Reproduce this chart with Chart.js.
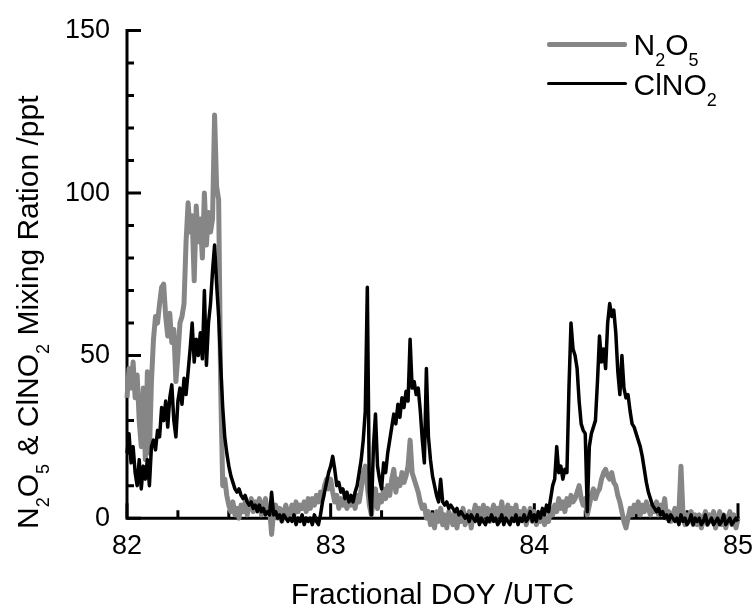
<!DOCTYPE html>
<html>
<head>
<meta charset="utf-8">
<script src="https://cdn.jsdelivr.net/npm/chart.js"></script>
<style>
  body { margin: 0; background: #fff; }
  #wrap { position: relative; width: 756px; height: 609px; }
  #myChart { position: absolute; left: 0; top: 0; }
  .txt { position: absolute; font-family: 'Liberation Sans', Arial, sans-serif; font-size: 30px; line-height: 30px; color: #000; white-space: nowrap; }
  .sub { font-size: 18px; position: relative; top: 11px; }
  .ytitle { transform-origin: 0 0; transform: rotate(-90deg); }
  .key { position: absolute; }
</style>
</head>
<body>
<div id="wrap">
  <canvas id="myChart" width="756" height="609"></canvas>
  <div class="key" style="left:547px;top:42px;width:80px;height:4.5px;background:#868686;border-radius:2px"></div>
  <div class="key" style="left:547px;top:81.5px;width:80px;height:3.5px;background:#000;border-radius:2px"></div>
  <div class="txt" style="left:633.5px;top:29.6px">N<span class="sub">2</span>O<span class="sub">5</span></div>
  <div class="txt" style="left:633.5px;top:69.6px">ClNO<span class="sub">2</span></div>
  <div class="txt ytitle" style="left:13px;top:529px">N<span class="sub">2</span>O<span class="sub">5</span> &amp; ClNO<span class="sub">2</span> Mixing Ration /ppt</div>
</div>
<script>
// sampling of the time axis (fractional day of year)
const doyStart = 82;
const doyStep = 0.01;

// ClNO2 (black), ppt, one value per 0.01 day from 82.00 to 85.00
const clno2 = [
    20, 26, 17, 22, 14, 10, 18, 9, 16, 12,
    18, 10, 22, 24, 21, 27, 25, 34, 30, 36,
    28, 37, 41, 30, 25, 36, 40, 35, 43, 38,
    45, 52, 60, 48, 55, 50, 57, 49, 70, 47,
    60, 66, 76, 84, 72, 62, 47, 34, 25, 20,
    16, 13, 11, 9, 8, 9, 7, 6, 7, 5,
    4, 5, 3, 4, 2, 4, 2, 3, 1, 2,
    1, 8, 1, 2, 0, 1, -1, 1, 0, -1,
    0, -1, 1, -2, 0, -1, 1, -2, 0, -1,
    0, -2, 1, -1, -2, 1, 5, 8, 11, 14,
    16, 19, 15, 10, 11, 8, 9, 6, 8, 5,
    7, 5, 8, 10, 14, 18, 24, 33, 71, 8,
    1, 22, 32, 16, 12, 9, 17, 14, 20, 24,
    28, 32, 29, 35, 31, 37, 34, 39, 36, 55,
    40, 42, 38, 40, 33, 24, 17, 46, 25, 18,
    13, 10, 7, 5, 12, 5, 4, 5, 3, 4,
    3, 2, 3, 1, 2, 1, 0, 1, -1, 1,
    0, -1, 1, -2, 0, -1, -2, 0, -1, 1,
    -1, 0, -2, -1, 1, -2, 0, -1, -2, 0,
    -1, 1, -2, 0, -1, 1, -1, 0, 2, -1,
    1, -1, 2, 0, 3, 1, 4, 2, 6, 10,
    12, 22, 14, 16, 12, 15, 14, 40, 60, 52,
    50, 46, 36, 29, 27, 26, 2, 22, 26, 28,
    30, 42, 56, 48, 52, 46, 60, 66, 62, 64,
    57, 45, 38, 50, 40, 37, 38, 33, 29, 28,
    26, 24, 22, 19, 15, 11, 8, 6, 4, 3,
    2, 3, 1, 2, 0, 1, -1, 1, 0, -1,
    0, -2, 1, -1, 0, -2, -1, 1, -2, 0,
    -1, 0, -2, -1, 1, -2, -1, 0, -2, -1,
    0, -2, -1, 1, -2, -1, 0, -2, -1, 0,
    -1
];

// N2O5 (grey), ppt, same sampling
const n2o5 = [
    37, 46, 40, 48, 37, 44, 30, 22, 40, 18,
    45, 20, 42, 55, 62, 60, 66, 71, 72, 62,
    56, 63, 54, 58, 42, 50, 60, 62, 66, 85,
    97, 88, 93, 73, 96, 85, 92, 80, 100, 84,
    94, 88, 92, 124, 102, 98, 40, 10, 12, 7,
    4, 2, 5, 1, 3, 0, 4, 2, 5, 1,
    4, 6, 2, 5, 3, 6, 1, 4, 6, 2,
    3, -5, 2, 4, 0, 3, -1, 2, 4, 0,
    2, 4, 1, 5, 2, 4, 3, 5, 2, 6,
    3, 6, 4, 7, 5, 8, 6, 10, 12, 9,
    12, 8, 5, 7, 3, 6, 4, 5, 3, 6,
    4, 6, 3, 7, 5, 9, 14, 16, 10, 4,
    1, 6, 9, 3, 7, 5, 9, 6, 10, 7,
    12, 15, 8, 12, 10, 14, 11, 13, 16, 24,
    14, 12, 10, 8, 5, 3, 4, 0, 2, -2,
    1, -3, 2, -1, 3, -2, 1, -3, 2, 0,
    -2, 2, -3, 1, -1, 3, -2, 0, 2, -3,
    1, 4, 0, 3, -1, 4, 1, 3, -1, 2,
    4, 0, 3, 1, 5, 0, 2, 4, -1, 3,
    1, 4, -1, 2, 0, 3, -2, 1, 3, -1,
    2, -2, 1, -1, 2, -2, 0, -1, 3, 1,
    4, 2, 6, 3, 5, 2, 6, 4, 7, 5,
    6, 8, 10, 6, 4, 6, 1, 4, 7, 9,
    6, 8, 9, 12, 14, 15, 13, 12, 14, 11,
    10, 7, 5, 2, -1, -3, 0, 3, 1, 4,
    2, 5, 1, 4, 2, 5, 3, 1, 4, 2,
    5, 1, 4, 2, 6, 0, 2, -1, 1, 3,
    0, 2, 16, 1, -2, 1, -1, 2, -2, 1,
    -2, 1, -3, 0, 2, -2, 1, -1, 2, -3,
    0, 2, -2, 1, -3, 0, 2, -2, 1, -3,
    0
];

// ticks
const xMajorTicks = [82, 83, 84, 85];
const xMinorTicks = [82.25, 82.5, 82.75, 83.25, 83.5, 83.75, 84.25, 84.5, 84.75];
const yMajorTicks = [0, 50, 100, 150];
const yMinorTicks = [10, 20, 30, 40, 60, 70, 80, 90, 110, 120, 130, 140];

const fontFamily = "'Liberation Sans', Arial, sans-serif";

function toPoints(values) {
    return values.map((v, i) => ({ x: +(doyStart + i * doyStep).toFixed(2), y: v }));
}

// axes with inward ticks, drawn under the lines
const axesPlugin = {
    id: 'axes',
    beforeDatasetsDraw(chart) {
        const { ctx, scales: { x, y } } = chart;
        const left = x.getPixelForValue(xMajorTicks[0]);
        const right = x.getPixelForValue(xMajorTicks[xMajorTicks.length - 1]);
        const zero = y.getPixelForValue(yMajorTicks[0]);
        const top = y.getPixelForValue(yMajorTicks[yMajorTicks.length - 1]);

        ctx.save();
        ctx.strokeStyle = '#000';
        ctx.lineWidth = 3;
        ctx.lineCap = 'square';
        ctx.beginPath();
        ctx.moveTo(left, top);
        ctx.lineTo(left, zero);
        ctx.lineTo(right, zero);
        ctx.stroke();

        ctx.lineCap = 'butt';
        ctx.beginPath();
        yMajorTicks.forEach(v => { const p = y.getPixelForValue(v); ctx.moveTo(left, p); ctx.lineTo(left + 14, p); });
        yMinorTicks.forEach(v => { const p = y.getPixelForValue(v); ctx.moveTo(left, p); ctx.lineTo(left + 7, p); });
        xMajorTicks.forEach(v => { const p = x.getPixelForValue(v); ctx.moveTo(p, zero); ctx.lineTo(p, zero - 15); });
        xMinorTicks.forEach(v => { const p = x.getPixelForValue(v); ctx.moveTo(p, zero); ctx.lineTo(p, zero - 8); });
        ctx.stroke();
        ctx.restore();
    }
};

document.addEventListener('DOMContentLoaded', () => {
    const ctx = document.getElementById('myChart');

    new Chart(ctx, {
        type: 'line',
        data: {
            datasets: [{
                label: 'ClNO2',
                data: toPoints(clno2),
                borderColor: '#000000',
                borderWidth: 3.5,
                pointRadius: 0,
                tension: 0,
                borderJoinStyle: 'round',
                clip: false
            }, {
                label: 'N2O5',
                data: toPoints(n2o5),
                borderColor: '#868686',
                borderWidth: 5,
                pointRadius: 0,
                tension: 0,
                borderJoinStyle: 'round',
                clip: false
            }]
        },
        options: {
            responsive: false,
            animation: false,
            layout: { padding: { top: 25, right: 18, left: 0, bottom: 0 } },
            plugins: {
                legend: { display: false },
                tooltip: { enabled: false }
            },
            scales: {
                x: {
                    type: 'linear',
                    min: 82,
                    max: 85,
                    grid: { display: false, drawTicks: false },
                    border: { display: false },
                    afterBuildTicks: s => { s.ticks = xMajorTicks.map(v => ({ value: v })); },
                    afterFit: s => { s.height = 74.6; },
                    ticks: {
                        color: '#000',
                        padding: -1,
                        font: { family: fontFamily, size: 27, lineHeight: 1 }
                    },
                    title: {
                        display: true,
                        text: 'Fractional DOY /UTC',
                        color: '#000',
                        padding: { top: 0, bottom: 1 },
                        font: { family: fontFamily, size: 30, lineHeight: 0.8 }
                    }
                },
                y: {
                    min: -5,
                    max: 150,
                    grid: { display: false, drawTicks: false },
                    border: { display: false },
                    afterBuildTicks: s => { s.ticks = yMajorTicks.map(v => ({ value: v })); },
                    afterFit: s => { s.width = 127; },
                    ticks: {
                        color: '#000',
                        padding: 17,
                        font: { family: fontFamily, size: 27, lineHeight: 1 }
                    }
                }
            }
        },
        plugins: [axesPlugin]
    });
});
</script>
</body>
</html>
